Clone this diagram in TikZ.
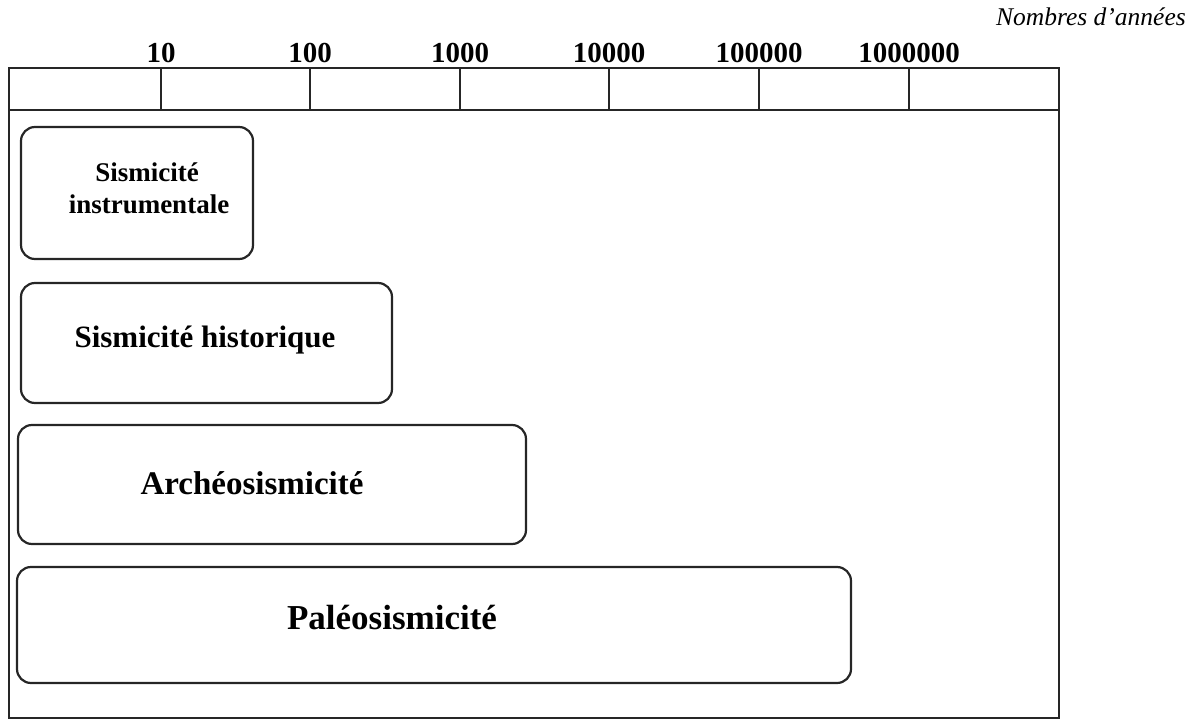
\documentclass[tikz,border=0pt]{standalone}
\usepackage{fontspec}
\setmainfont{Liberation Serif}
\begin{document}
\begin{tikzpicture}[x=1pt,y=-1pt,
  frameline/.style={line width=1.4pt, draw=black!85},
  tickline/.style={line width=1.1pt, draw=black!85},
  periodbox/.style={draw=black!85, line width=2.2pt, rounded corners=14pt, inner sep=0pt},
  ticklabel/.style={font=\fontsize{29}{32}\selectfont\bfseries, anchor=base, inner sep=0pt},
  boxtext/.style={font=\bfseries, anchor=base, inner sep=0pt, align=center}]
\useasboundingbox (0,0) rectangle (1195,720);
% frame
\coordinate (ftl) at (9,68);
\coordinate (fbr) at (1059,718);
\draw[frameline] (ftl) rectangle (fbr);
\coordinate (hl) at (9,110);
\coordinate (hr) at (1059,110);
\draw[frameline] (hl) -- (hr);
% ticks and labels
\foreach \x/\lab/\nm in {161/10/t1, 310/100/t2, 460/1000/t3, 609/10000/t4, 759/100000/t5, 909/1000000/t6}{
  \coordinate (\nm a) at (\x,68);
  \coordinate (\nm b) at (\x,110);
  \draw[tickline] (\nm a) -- (\nm b);
  \node[ticklabel] (\nm l) at (\x,62) {\lab};
}
\node[font=\fontsize{25.5}{29}\selectfont\itshape, anchor=base east, inner sep=0pt] (unit) at (1186,25) {Nombres d'années};
% boxes
\node[periodbox, minimum width=232pt, minimum height=132pt] (b1) at (137,193) {};
\node[periodbox, minimum width=371pt, minimum height=120pt] (b2) at (206.5,343) {};
\node[periodbox, minimum width=508pt, minimum height=119pt] (b3) at (272,484.5) {};
\node[periodbox, minimum width=834pt, minimum height=116pt] (b4) at (434,625) {};
% texts
\node[boxtext, font=\fontsize{27}{32}\selectfont\bfseries] (t1x) at (147,181) {Sismicité};
\node[boxtext, font=\fontsize{27}{32}\selectfont\bfseries] (t1y) at (149,213) {instrumentale};
\node[boxtext, font=\fontsize{31}{36}\selectfont\bfseries] (t2x) at (205,347) {Sismicité historique};
\node[boxtext, font=\fontsize{33}{38}\selectfont\bfseries] (t3x) at (252,494) {Archéosismicité};
\node[boxtext, font=\fontsize{35}{40}\selectfont\bfseries] (t4x) at (392,629) {Paléosismicité};
\end{tikzpicture}
\end{document}
